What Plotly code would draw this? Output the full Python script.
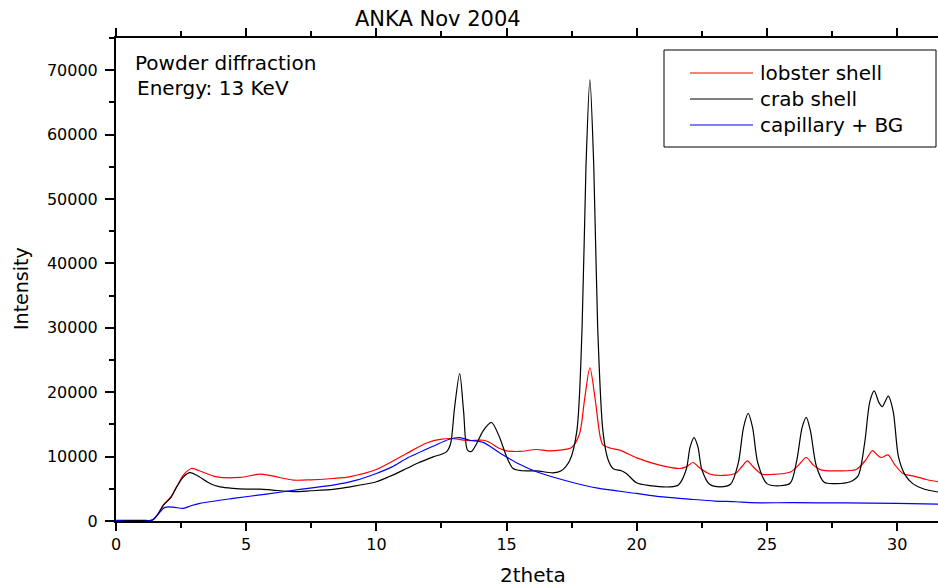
import plotly.graph_objects as go

# ---------------- data ----------------
crab_x = [0, 1.0, 1.4, 1.6, 1.82, 2.1, 2.33, 2.6, 2.84, 3.1, 3.61, 4.0, 4.5, 5.0, 5.53, 6.0,
          6.81, 7.5, 8.34, 9.0, 10.0, 10.5, 11.16, 11.6, 12.18, 12.69, 12.85, 13.0, 13.2,
          13.35, 13.5, 13.65, 13.85, 14.1, 14.42, 14.7, 15.0, 15.25, 15.6, 16.15, 16.79,
          17.1, 17.43, 17.7, 17.9, 18.05, 18.2, 18.35, 18.5, 18.7, 18.9, 19.1, 19.41, 19.6,
          19.99, 20.5, 21.27, 21.6, 21.9, 22.05, 22.2, 22.35, 22.5, 22.8, 23.2, 23.6, 23.9,
          24.1, 24.28, 24.45, 24.65, 25.0, 25.5, 25.9, 26.15, 26.35, 26.51, 26.67, 26.9,
          27.2, 27.66, 28.2, 28.5, 28.75, 28.95, 29.12, 29.3, 29.43, 29.66, 29.85, 30.05,
          30.3, 30.6, 31.0, 31.57]
crab_y = [100, 100, 150, 1000, 2480, 3600, 5300, 6900, 7500, 7100, 5830, 5300, 5060, 4950,
          4950, 4800, 4560, 4700, 4910, 5300, 6090, 6900, 8150, 9000, 9950, 10730, 12000,
          17500, 22900, 17000, 11000, 10800, 12000, 14000, 15300, 13300, 10000, 8150, 7800,
          7790, 7480, 7800, 9440, 14000, 30000, 55000, 68500, 55000, 30000, 14000, 9500,
          8100, 7800, 7380, 5930, 5500, 5300, 5600, 8000, 11500, 12950, 11500, 8000, 5700,
          5300, 5700, 9000, 14500, 16700, 14500, 9000, 5800, 5470, 5900, 9500, 14500, 16100,
          14000, 8500, 6000, 5800, 6100, 7000, 12000, 18500, 20200, 18400, 17750, 19400,
          17000, 10000, 7200, 5800, 5000, 4500]

lobster_x = [0, 1.4, 1.6, 1.82, 2.1, 2.33, 2.6, 2.9, 3.2, 3.86, 4.76, 5.53, 6.0, 6.81, 7.5,
             8.34, 9.0, 10.0, 10.5, 11.16, 11.93, 12.5, 12.95, 13.5, 14.1, 14.3, 14.74, 15.0,
             15.5, 16.15, 16.6, 17.04, 17.5, 17.8, 18.0, 18.2, 18.4, 18.6, 18.71, 19.0, 19.35,
             20.0, 20.88, 21.65, 21.9, 22.16, 22.4, 22.8, 23.31, 23.8, 24.05, 24.25, 24.45,
             24.8, 25.23, 25.9, 26.2, 26.51, 26.8, 27.1, 27.67, 28.43, 28.8, 29.05, 29.25,
             29.4, 29.65, 29.9, 30.22, 30.6, 31.12, 31.57]
lobster_y = [80, 150, 1000, 2480, 3700, 5310, 7200, 8150, 7800, 6860, 6760, 7280, 7000, 6350,
             6400, 6600, 6900, 8000, 9000, 10480, 12120, 12700, 12800, 12500, 12540, 12300,
             11250, 10900, 10800, 11100, 10900, 11000, 11400, 13500, 19000, 23800, 19000,
             13000, 11770, 11300, 11000, 9800, 8670, 8150, 8400, 9080, 8300, 7300, 7070, 7400,
             8500, 9340, 8500, 7300, 7230, 7600, 8600, 9860, 8600, 7900, 7790, 8000, 9500,
             10940, 10200, 9860, 10270, 8800, 7380, 7000, 6450, 6090]

capillary_x = [0, 1.37, 1.6, 1.88, 2.2, 2.58, 2.9, 3.22, 4.5, 5.78, 7.06, 8.34, 9.2, 10.0,
               10.6, 11.16, 12.18, 12.8, 13.2, 13.59, 14.1, 14.74, 15.5, 16.15, 17.43, 18.5,
               19.99, 20.88, 22.0, 23.0, 23.83, 24.34, 26.0, 28.0, 30.0, 31.57]
capillary_y = [50, 100, 1000, 2120, 2150, 1960, 2400, 2740, 3510, 4180, 4910, 5570, 6300,
               7380, 8400, 9710, 11610, 12700, 12960, 12540, 12200, 10570, 8800, 7640, 6090,
               5100, 4280, 3770, 3400, 3100, 2990, 2840, 2850, 2800, 2750, 2630]

series_names = ["lobster shell", "crab shell", "capillary + BG"]
series_colors = ["#ff0000", "#000000", "#0000ff"]
x_ticks = [0, 5, 10, 15, 20, 25, 30]
x_ticklabels = ["0", "5", "10", "15", "20", "25", "30"]
y_ticks = [0, 10000, 20000, 30000, 40000, 50000, 60000, 70000]
y_ticklabels = ["0", "10000", "20000", "30000", "40000", "50000", "60000", "70000"]

# ---------------- figure ----------------
W, H = 938, 586
L, R, T, B = 116, 0, 38, 65
PW, PH = W - L - R, H - T - B
FONT = "DejaVu Sans"


def px(xp):
    return (xp - L) / PW


def py(yp):
    return (H - B - yp) / PH


fig = go.Figure()
for name, color, xs, ys in zip(series_names, series_colors,
                               [lobster_x, crab_x, capillary_x],
                               [lobster_y, crab_y, capillary_y]):
    fig.add_trace(go.Scatter(x=xs, y=ys, mode="lines", name=name, showlegend=False,
                             line=dict(color=color, width=1.2, shape="spline", smoothing=0.8)))

axis_common = dict(showgrid=False, zeroline=False, showline=True, linecolor="black",
                   linewidth=2, ticks="outside", tickcolor="black", tickwidth=2,
                   tickfont=dict(family=FONT, size=16, color="black"))
fig.update_xaxes(range=[0, 31.57], tickvals=x_ticks, ticktext=x_ticklabels, ticklen=8,
                 mirror="ticks",
                 minor=dict(dtick=2.5, ticks="outside", ticklen=5, tickwidth=2,
                            tickcolor="black"),
                 **axis_common)
fig.update_yaxes(range=[0, 75000], tickvals=y_ticks, ticktext=y_ticklabels, ticklen=9,
                 ticklabelstandoff=4,
                 minor=dict(dtick=5000, ticks="outside", ticklen=5, tickwidth=2,
                            tickcolor="black"),
                 **axis_common)

annotations = [
    dict(text="ANKA Nov 2004", x=px(438), y=py(19), font=dict(size=21)),
    dict(text="Powder diffraction", x=px(133), y=py(63), xanchor="left", font=dict(size=20)),
    dict(text="Energy: 13 KeV", x=px(135), y=py(88), xanchor="left", font=dict(size=20)),
    dict(text="2theta", x=px(533), y=py(575), font=dict(size=20)),
    dict(text="Intensity", x=px(21), y=py(289), textangle=-90, font=dict(size=19)),
]
shapes = [dict(type="rect", xref="paper", yref="paper", x0=px(664), x1=px(936),
               y0=py(147), y1=py(50), line=dict(color="black", width=1),
               fillcolor="white", layer="above")]
for i, (name, color) in enumerate(zip(series_names, series_colors)):
    yy = 73 + 26 * i
    shapes.append(dict(type="line", xref="paper", yref="paper", x0=px(690), x1=px(753),
                       y0=py(yy), y1=py(yy), line=dict(color=color, width=1.2),
                       layer="above"))
    annotations.append(dict(text=name, x=px(758), y=py(yy), xanchor="left",
                            font=dict(size=20)))

for a in annotations:
    a.setdefault("xanchor", "center")
    a.update(xref="paper", yref="paper", yanchor="middle", showarrow=False)
    a["font"].update(family=FONT, color="black")

fig.update_layout(width=W, height=H, margin=dict(l=L, r=R, t=T, b=B),
                  paper_bgcolor="white", plot_bgcolor="white",
                  annotations=annotations, shapes=shapes, showlegend=False)

fig.write_html("out.html")
